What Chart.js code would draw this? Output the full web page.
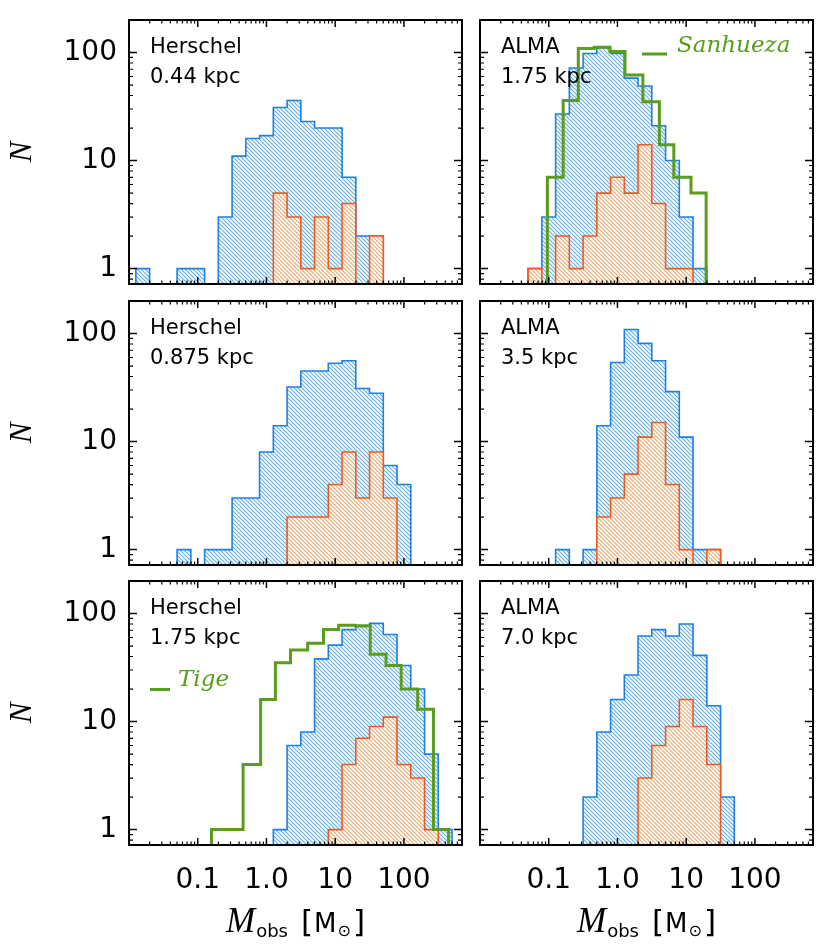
<!DOCTYPE html>
<html><head><meta charset="utf-8">
<script src="https://cdn.jsdelivr.net/npm/chart.js@4.4.1/dist/chart.umd.min.js"></script>
<style>
html,body{margin:0;padding:0;background:#fff;}
#wrap{position:relative;width:830px;height:950px;overflow:hidden;}
canvas{position:absolute;}
</style></head><body><div id="wrap"></div>
<script>
// ---------------- data ----------------
const binEdgesLog = [-1.9,-1.7,-1.5,-1.3,-1.1,-0.9,-0.7,-0.5,-0.3,-0.1,0.1,0.3,0.5,0.7,0.9,1.1,1.3,1.5,1.7,1.9,2.1,2.3,2.5,2.7];

const herschel044Total  = [1,0,0,1,1,0,3,11,16,17,31,36,23,20,20,7,2,2,0,0,0,0,0];
const herschel044Dense  = [0,0,0,0,0,0,0,0,0,0,5,3,1,3,1,4,0,2,0,0,0,0,0];
const alma175Total      = [0,0,0,1,3,27,72,98,111,98,58,49,21,10,3,1,0,0,0,0,0,0,0];
const alma175Dense      = [0,0,0,1,0,2,1,2,5,7,5,14,4,1,1,0,0,0,0,0,0,0,0];
const herschel0875Total = [0,0,0,1,0,1,1,3,3,8,14,32,45,45,53,56,31,28,6,4,0,0,0];
const herschel0875Dense = [0,0,0,0,0,0,0,0,0,0,0,2,2,2,4,8,3,8,3,0,0,0,0];
const alma35Total       = [0,0,0,0,0,1,0,1,14,54,109,81,56,29,11,1,1,0,0,0,0,0,0];
const alma35Dense       = [0,0,0,0,0,0,0,0,2,3,5,11,15,4,1,0,1,0,0,0,0,0,0];
const herschel175Total  = [0,0,0,0,0,0,0,0,0,0,1,6,8,38,51,71,76,81,64,33,20,5,1];
const herschel175Dense  = [0,0,0,0,0,0,0,0,0,0,0,0,0,0,1,4,7,9,11,4,3,1,0];
const alma70Total       = [0,0,0,0,0,0,0,2,8,16,27,62,71,62,80,41,14,2,0,0,0,0,0];
const alma70Dense       = [0,0,0,0,0,0,0,0,0,0,0,3,6,9,16,9,4,0,0,0,0,0,0];

const sanhuezaEdgesLog = [-1.02,-0.79,-0.57,-0.34,-0.11,0.11,0.37,0.61,0.82,1.07,1.29];
const sanhuezaCounts   = [7,36,109,112,102,62,35,14,7,5];
const tigeEdgesLog     = [-0.80,-0.57,-0.34,-0.085,0.13,0.35,0.60,0.83,1.05,1.29,1.51,1.74,1.96,2.20,2.43,2.65];
const tigeCounts       = [1,1,4,16,35,46,53,71,78,77,42,33,20,13,1];

const xTickValues = [0.1, 1, 10, 100];
const xTickLabels = ['0.1', '1.0', '10', '100'];
const yTickValues = [1, 10, 100];
const yTickLabels = ['1', '10', '100'];

// ---------------- style / layout ----------------
const X_MIN = 0.01, X_MAX = 700, Y_MIN = 0.72, Y_MAX = 200, ZERO_FLOOR = 0.5;
const BLUE_LINE = '#1f80e2', BLUE_HATCH = '#5db0f0';
const ORANGE_LINE = '#ee5b22', ORANGE_HATCH = '#efa66c';
const GREEN = '#5a9c1c';
const TICK_FONT = 'DejaVu Sans';

const COLS = [{left:0, width:470, axisW:129, padR:8}, {left:470, width:360, axisW:10, padR:17}];
const ROWS = [{top:0, h:290, padT:20, xH:6}, {top:290, h:280, padT:11, xH:5}, {top:570, h:380, padT:11, xH:105}];

const panels = [
  {col:0,row:0,name:'Herschel',dist:'0.44 kpc',total:herschel044Total,dense:herschel044Dense},
  {col:1,row:0,name:'ALMA',dist:'1.75 kpc',total:alma175Total,dense:alma175Dense,
   ref:{label:'Sanhueza',edges:sanhuezaEdgesLog,counts:sanhuezaCounts,lx0:162,lx1:187,ly:34,tx:197,ty:32}},
  {col:0,row:1,name:'Herschel',dist:'0.875 kpc',total:herschel0875Total,dense:herschel0875Dense},
  {col:1,row:1,name:'ALMA',dist:'3.5 kpc',total:alma35Total,dense:alma35Dense},
  {col:0,row:2,name:'Herschel',dist:'1.75 kpc',total:herschel175Total,dense:herschel175Dense,
   ref:{label:'Tige',edges:tigeEdgesLog,counts:tigeCounts,lx0:21,lx1:41,ly:108.5,tx:49,ty:105}},
  {col:1,row:2,name:'ALMA',dist:'7.0 kpc',total:alma70Total,dense:alma70Dense}
];

function hatch(color, bg) {
  const s = 4, c = document.createElement('canvas');
  c.width = s; c.height = s;
  const g = c.getContext('2d');
  if (bg) { g.fillStyle = bg; g.fillRect(0, 0, s, s); }
  g.strokeStyle = color; g.lineWidth = 1.1;
  g.beginPath();
  g.moveTo(-1, -1); g.lineTo(s + 1, s + 1);
  g.moveTo(-1, s - 1); g.lineTo(1, s + 1);
  g.moveTo(s - 1, -1); g.lineTo(s + 1, 1);
  g.stroke();
  return g.createPattern(c, 'repeat');
}

function histPoints(edgesLog, counts) {
  const pts = [{x: Math.pow(10, edgesLog[0]), y: ZERO_FLOOR}];
  for (let i = 0; i < counts.length; i++) {
    pts.push({x: Math.pow(10, edgesLog[i]), y: counts[i] > 0 ? counts[i] : ZERO_FLOOR});
  }
  pts.push({x: Math.pow(10, edgesLog[counts.length]), y: ZERO_FLOOR});
  return pts;
}

const xMinor = [], yMinor = [];
[0.01, 0.1, 1, 10, 100].forEach(d => { for (let k = 2; k <= 9; k++) xMinor.push(d * k); });
[0.1, 1, 10, 100].forEach(d => { for (let k = 2; k <= 9; k++) yMinor.push(d * k); });

const framePlugin = {
  id: 'frame',
  afterDatasetsDraw(chart) {
    const {ctx, chartArea: a, scales: {x, y}} = chart;
    ctx.save();
    ctx.strokeStyle = '#000';
    const tickSet = (vals, len, lw) => {
      ctx.lineWidth = lw; ctx.beginPath();
      vals.forEach(v => {
        const px = x.getPixelForValue(v);
        if (px > a.left + 1 && px < a.right - 1) {
          ctx.moveTo(px, a.bottom); ctx.lineTo(px, a.bottom - len);
          ctx.moveTo(px, a.top); ctx.lineTo(px, a.top + len);
        }
      });
      ctx.stroke();
    };
    const tickSetY = (vals, len, lw) => {
      ctx.lineWidth = lw; ctx.beginPath();
      vals.forEach(v => {
        const py = y.getPixelForValue(v);
        if (py > a.top + 1 && py < a.bottom - 1) {
          ctx.moveTo(a.left, py); ctx.lineTo(a.left + len, py);
          ctx.moveTo(a.right, py); ctx.lineTo(a.right - len, py);
        }
      });
      ctx.stroke();
    };
    tickSet(xTickValues, 7, 1.5);
    tickSet(xMinor, 3.5, 1.2);
    tickSetY(yTickValues, 8, 1.5);
    tickSetY(yMinor, 4, 1.2);
    ctx.lineWidth = 2;
    ctx.strokeRect(a.left, a.top, a.right - a.left, a.bottom - a.top);
    ctx.restore();
  }
};

const textPlugin = {
  id: 'paneltext',
  afterDraw(chart) {
    const p = chart.config.options.plugins.paneltext;
    const {ctx, chartArea: a} = chart;
    ctx.save();
    ctx.fillStyle = '#000';
    ctx.textAlign = 'left'; ctx.textBaseline = 'alphabetic';
    ctx.font = '21px "DejaVu Sans"';
    ctx.fillText(p.name, a.left + 21, a.top + 33);
    ctx.fillText(p.dist, a.left + 21, a.top + 63);
    if (p.ref) {
      const r = p.ref;
      ctx.strokeStyle = GREEN; ctx.lineWidth = 3;
      ctx.beginPath(); ctx.moveTo(a.left + r.lx0, a.top + r.ly); ctx.lineTo(a.left + r.lx1, a.top + r.ly); ctx.stroke();
      ctx.fillStyle = GREEN;
      ctx.font = 'italic 23px "DejaVu Serif"';
      ctx.fillText(r.label, a.left + r.tx, a.top + r.ty);
    }
    if (p.row === 2) {
      // x-axis title: M_obs [M_sun]
      const pieces = [
        {t:'M', f:'italic 35px "Liberation Serif"', dy:0, gap:1},
        {t:'obs', f:'18px "DejaVu Sans"', dy:5, gap:13},
        {t:'[', f:'31px "DejaVu Sans"', dy:0, gap:1},
        {t:'M', f:'26px "DejaVu Sans"', dy:0, gap:1},
        {t:'\u2299', f:'16px "DejaVu Sans"', dy:4, gap:2},
        {t:']', f:'31px "DejaVu Sans"', dy:0, gap:0}
      ];
      let total = 0;
      pieces.forEach(pc => { ctx.font = pc.f; pc.w = ctx.measureText(pc.t).width; total += pc.w + pc.gap; });
      let x0 = (a.left + a.right) / 2 - total / 2;
      const base = a.top + (932 - 581);
      ctx.fillStyle = '#000';
      pieces.forEach(pc => { ctx.font = pc.f; ctx.fillText(pc.t, x0, base + pc.dy); x0 += pc.w + pc.gap; });
    }
    ctx.restore();
  }
};

const bluePat = hatch(BLUE_HATCH, null);
const orangePat = hatch(ORANGE_HATCH, '#ffffff');
const wrap = document.getElementById('wrap');

panels.forEach((p, idx) => {
  const C = COLS[p.col], R = ROWS[p.row];
  const cv = document.createElement('canvas');
  cv.width = C.width; cv.height = R.h;
  cv.style.left = C.left + 'px'; cv.style.top = R.top + 'px';
  cv.style.width = C.width + 'px'; cv.style.height = R.h + 'px';
  wrap.appendChild(cv);
  const isLeft = p.col === 0, isBottom = p.row === 2;
  const datasets = [
    {data: histPoints(binEdgesLog, p.total), borderColor: BLUE_LINE, borderWidth: 1.6, backgroundColor: bluePat,
     fill: 'start', stepped: 'before', pointRadius: 0, order: 3},
    {data: histPoints(binEdgesLog, p.dense), borderColor: ORANGE_LINE, borderWidth: 1.6, backgroundColor: orangePat,
     fill: 'start', stepped: 'before', pointRadius: 0, order: 2}
  ];
  if (p.ref) {
    datasets.push({data: histPoints(p.ref.edges, p.ref.counts), borderColor: GREEN, borderWidth: 3,
      fill: false, stepped: 'before', pointRadius: 0, order: 1});
  }
  new Chart(cv, {
    type: 'line',
    data: {datasets},
    options: {
      responsive: false, animation: false, devicePixelRatio: 1,
      layout: {padding: {left: 0, right: C.padR, top: R.padT, bottom: 0}},
      plugins: {legend: {display: false}, tooltip: {enabled: false},
        paneltext: {name: p.name, dist: p.dist, ref: p.ref, row: p.row}},
      scales: {
        x: {type: 'logarithmic', min: X_MIN, max: X_MAX, bounds: 'data',
            grid: {display: false, drawTicks: false}, border: {display: false},
            ticks: {display: isBottom, autoSkip: false, maxRotation: 0, minRotation: 0, padding: 19,
                    color: '#000', font: {family: TICK_FONT, size: 28},
                    callback: (v, i) => xTickLabels[i]},
            afterBuildTicks: s => { s.ticks = xTickValues.map(v => ({value: v})); },
            afterFit: s => { s.height = R.xH; s.paddingLeft = 0; s.paddingRight = 0; s.paddingTop = 0; s.paddingBottom = 0; }},
        y: {type: 'logarithmic', min: Y_MIN, max: Y_MAX, bounds: 'data',
            grid: {display: false, drawTicks: false}, border: {display: false},
            ticks: {display: isLeft, autoSkip: false, padding: 12, color: '#000',
                    font: {family: TICK_FONT, size: 28}, callback: (v, i) => yTickLabels[i]},
            title: {display: isLeft, text: 'N', color: '#000', padding: {top: 4, bottom: 0},
                    font: {family: 'Liberation Serif', style: 'italic', size: 31}},
            afterBuildTicks: s => { s.ticks = yTickValues.map(v => ({value: v})); },
            afterFit: s => { s.width = C.axisW; s.paddingLeft = 0; s.paddingRight = 0; s.paddingTop = 0; s.paddingBottom = 0; }}
      }
    },
    plugins: [framePlugin, textPlugin]
  });
});
</script>
</body></html>
